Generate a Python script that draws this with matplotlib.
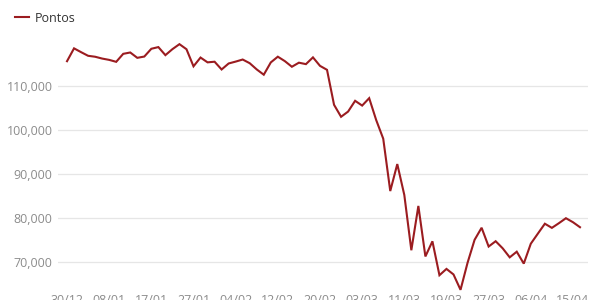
import matplotlib
matplotlib.use("Agg")
import matplotlib.pyplot as plt

plt.rcParams['font.family'] = ['Open Sans', 'DejaVu Sans']

datas = ["30/12", "02/01", "03/01", "06/01", "07/01", "08/01", "09/01", "10/01", "13/01", "14/01",
         "15/01", "16/01", "17/01", "20/01", "21/01", "22/01", "23/01", "24/01", "27/01", "28/01",
         "29/01", "30/01", "31/01", "03/02", "04/02", "05/02", "06/02", "07/02", "10/02", "11/02",
         "12/02", "13/02", "14/02", "17/02", "18/02", "19/02", "20/02", "21/02", "26/02", "27/02",
         "28/02", "02/03", "03/03", "04/03", "05/03", "06/03", "09/03", "10/03", "11/03", "12/03",
         "13/03", "16/03", "17/03", "18/03", "19/03", "20/03", "23/03", "24/03", "25/03", "26/03",
         "27/03", "30/03", "31/03", "01/04", "02/04", "03/04", "06/04", "07/04", "08/04", "09/04",
         "13/04", "14/04", "15/04", "16/04"]
pontos = [115645, 118573, 117707, 116878, 116662, 116247, 115947, 115503, 117325, 117632,
          116414, 116708, 118478, 118862, 117026, 118391, 119528, 118376, 114482, 116479,
          115385, 115528, 113761, 115128, 115557, 116028, 115190, 113770, 112570, 115371,
          116674, 115662, 114381, 115309, 114977, 116518, 114586, 113681, 105718, 102984,
          104172, 106625, 105537, 107224, 102233, 97997, 86067, 92214, 85171, 72583,
          82678, 71168, 74617, 66895, 68332, 67069, 63570, 69729, 74955, 77710,
          73429, 74640, 73020, 70967, 72253, 69538, 74073, 76358, 78625, 77682,
          78750, 79880, 78970, 77830]
# rotulos do eixo x, um a cada 6 pontos
rotulos_x = ["30/12", "08/01", "17/01", "27/01", "04/02", "12/02", "20/02",
             "03/03", "11/03", "19/03", "27/03", "06/04", "15/04"]
ticks_y = [70000, 80000, 90000, 100000, 110000]

fig = plt.figure(figsize=(6, 3), dpi=100)
ax = fig.add_axes([0.0967, 0.03, 0.8833, 0.8297])

x = list(range(len(pontos)))
linha, = ax.plot(x, pontos, color='#9b1c20', lw=1.5, solid_joinstyle='miter')

ax.set_xlim(-1.28, 74.14)
ax.set_ylim(63300, 120000)
ax.set_yticks(ticks_y)
ax.set_yticklabels([f"{v:,}" for v in ticks_y])
ax.set_xticks([i * 6 for i in range(len(rotulos_x))])
ax.set_xticklabels(rotulos_x)
ax.tick_params(axis='y', length=0, pad=4, labelsize=9, labelcolor='#8c8c8c')
ax.tick_params(axis='x', length=0, pad=2, labelsize=9, labelcolor='#8c8c8c')
ax.grid(axis='y', color='#e6e6e6', lw=0.9)
ax.set_axisbelow(True)
for s in ax.spines.values():
    s.set_visible(False)

fig.legend([linha], ['Pontos'], loc='center left', bbox_to_anchor=(0.015, 0.94),
           frameon=False, borderpad=0, handlelength=1.1, handletextpad=0.45,
           fontsize=9, labelcolor='#333333')

fig.savefig("out.png", dpi=100)
